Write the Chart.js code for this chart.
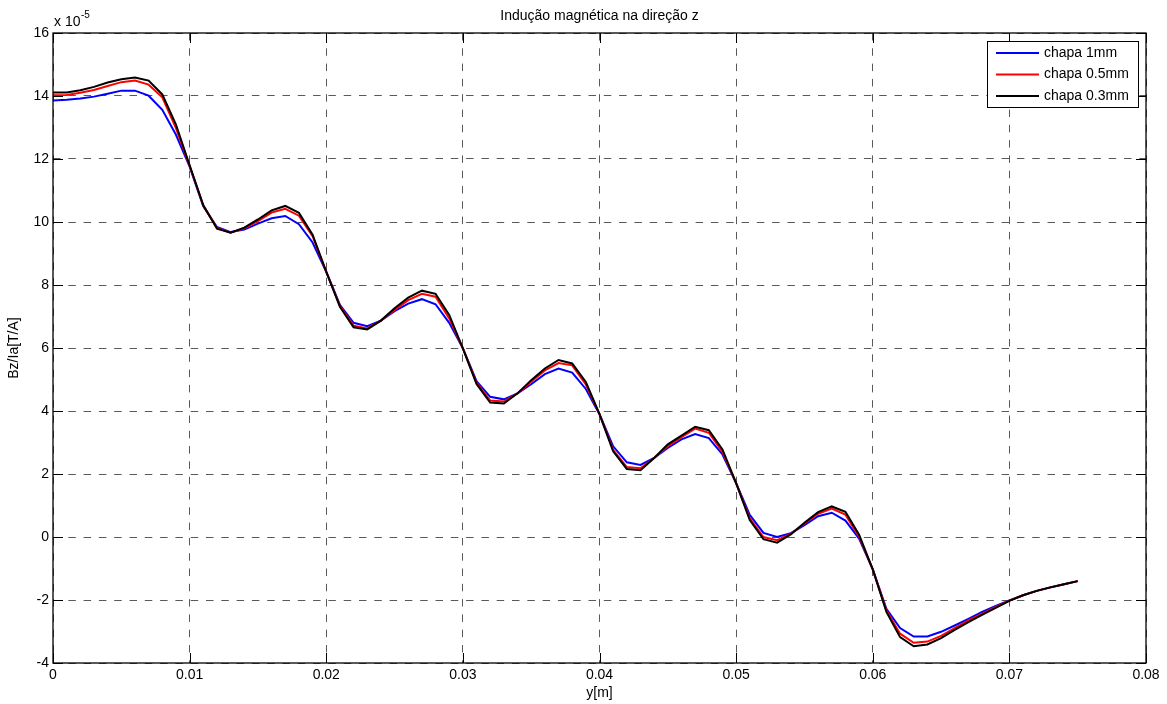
<!DOCTYPE html>
<html>
<head>
<meta charset="utf-8">
<script src="https://cdn.jsdelivr.net/npm/chart.js@4/dist/chart.umd.min.js"></script>
<style>
  html, body { margin: 0; padding: 0; background: #fff; }
  #wrap { width: 1167px; height: 704px; }
</style>
</head>
<body>
<div id="wrap"><canvas id="grafico"></canvas></div>
<script>
// posicoes y[m]
var posY = [0, 0.001, 0.002, 0.003, 0.004, 0.005, 0.006, 0.007, 0.008, 0.009,
  0.010, 0.011, 0.012, 0.013, 0.014, 0.015, 0.016, 0.017, 0.018, 0.019,
  0.020, 0.021, 0.022, 0.023, 0.024, 0.025, 0.026, 0.027, 0.028, 0.029,
  0.030, 0.031, 0.032, 0.033, 0.034, 0.035, 0.036, 0.037, 0.038, 0.039,
  0.040, 0.041, 0.042, 0.043, 0.044, 0.045, 0.046, 0.047, 0.048, 0.049,
  0.050, 0.051, 0.052, 0.053, 0.054, 0.055, 0.056, 0.057, 0.058, 0.059,
  0.060, 0.061, 0.062, 0.063, 0.064, 0.065, 0.066, 0.067, 0.068, 0.069,
  0.070, 0.071, 0.072, 0.073, 0.074, 0.075];

// Bz/Ia em unidades de 1e-5 T/A
var chapa1mm = [13.86, 13.88, 13.92, 13.98, 14.07, 14.17, 14.17, 14.01, 13.56, 12.77,
  11.76, 10.50, 9.84, 9.68, 9.76, 9.95, 10.12, 10.19, 9.93, 9.35,
  8.42, 7.37, 6.80, 6.69, 6.87, 7.17, 7.41, 7.55, 7.39, 6.80,
  5.99, 4.95, 4.45, 4.37, 4.56, 4.85, 5.17, 5.35, 5.22, 4.70,
  3.90, 2.88, 2.37, 2.29, 2.51, 2.83, 3.10, 3.27, 3.14, 2.62,
  1.71, 0.70, 0.13, 0.00, 0.12, 0.38, 0.66, 0.77, 0.52, -0.05,
  -1.03, -2.28, -2.89, -3.16, -3.16, -3.01, -2.81, -2.60, -2.38, -2.19,
  -2.01, -1.85, -1.71, -1.60, -1.50, -1.40];

var chapa05mm = [14.02, 14.03, 14.10, 14.19, 14.32, 14.44, 14.49, 14.36, 13.96, 12.98,
  11.78, 10.52, 9.81, 9.66, 9.80, 10.03, 10.30, 10.42, 10.20, 9.55,
  8.42, 7.34, 6.71, 6.62, 6.87, 7.21, 7.52, 7.72, 7.63, 6.94,
  5.99, 4.90, 4.33, 4.30, 4.56, 4.93, 5.29, 5.52, 5.45, 4.84,
  3.90, 2.77, 2.22, 2.18, 2.51, 2.88, 3.17, 3.44, 3.31, 2.70,
  1.71, 0.59, 0.00, -0.10, 0.10, 0.43, 0.74, 0.90, 0.71, 0.01,
  -1.03, -2.33, -3.07, -3.36, -3.32, -3.14, -2.89, -2.65, -2.44, -2.22,
  -2.02, -1.85, -1.71, -1.60, -1.50, -1.40];

var chapa03mm = [14.11, 14.11, 14.18, 14.29, 14.43, 14.53, 14.59, 14.49, 14.05, 13.09,
  11.80, 10.53, 9.79, 9.66, 9.82, 10.08, 10.37, 10.51, 10.29, 9.60,
  8.42, 7.31, 6.66, 6.59, 6.87, 7.26, 7.60, 7.82, 7.72, 7.05,
  5.99, 4.86, 4.27, 4.24, 4.56, 4.98, 5.35, 5.62, 5.51, 4.92,
  3.90, 2.72, 2.16, 2.12, 2.51, 2.94, 3.22, 3.50, 3.39, 2.78,
  1.71, 0.54, -0.07, -0.18, 0.08, 0.45, 0.79, 0.97, 0.80, 0.07,
  -1.03, -2.38, -3.18, -3.47, -3.41, -3.21, -2.95, -2.70, -2.47, -2.25,
  -2.03, -1.85, -1.71, -1.60, -1.50, -1.40];

var rotulos = ["chapa 1mm", "chapa 0.5mm", "chapa 0.3mm"];
var cores = ["#0000ff", "#ff0000", "#000000"];
var series = [chapa1mm, chapa05mm, chapa03mm];

var fonte = "'Liberation Sans', Arial, sans-serif";

function pontos(valores) {
    return valores.map(function (v, i) { return { x: posY[i], y: v }; });
}

var datasets = series.map(function (s, i) {
    return {
        label: rotulos[i],
        data: pontos(s),
        borderColor: cores[i],
        backgroundColor: cores[i],
        borderWidth: 2,
        pointRadius: 0,
        tension: 0,
        fill: false,
        order: 2 - i   // preto por cima
    };
});

// caixa, ticks internos, titulo, expoente e legenda estilo matlab
var estiloMatlab = {
    id: 'estiloMatlab',
    afterDraw: function (chart) {
        var c = chart.ctx;
        var a = chart.chartArea;
        var sx = chart.scales.x;
        var sy = chart.scales.y;
        c.save();
        c.strokeStyle = '#000';
        c.lineWidth = 1.3;
        c.strokeRect(a.left, a.top, a.right - a.left, a.bottom - a.top);

        c.lineWidth = 1;
        c.beginPath();
        sx.ticks.forEach(function (t) {
            var px = Math.round(sx.getPixelForValue(t.value)) + 0.5;
            c.moveTo(px, a.bottom); c.lineTo(px, a.bottom - 10);
            c.moveTo(px, a.top); c.lineTo(px, a.top + 10);
        });
        sy.ticks.forEach(function (t) {
            var py = Math.round(sy.getPixelForValue(t.value)) + 0.5;
            c.moveTo(a.left, py); c.lineTo(a.left + 10, py);
            c.moveTo(a.right, py); c.lineTo(a.right - 10, py);
        });
        c.stroke();

        c.fillStyle = '#000';
        c.font = '14px ' + fonte;
        c.textAlign = 'center';
        c.textBaseline = 'middle';
        c.fillText('Indução magnética na direção z', (a.left + a.right) / 2, 16);

        // x 10^-5
        c.textAlign = 'left';
        c.textBaseline = 'alphabetic';
        c.fillText('x 10', a.left + 1, 26);
        c.font = '10px ' + fonte;
        c.fillText('-5', a.left + 28, 18);

        // legenda
        var lx = 987, ly = 41, lw = 151, lh = 66;
        c.fillStyle = '#fff';
        c.fillRect(lx, ly, lw, lh);
        c.strokeStyle = '#000';
        c.lineWidth = 1;
        c.strokeRect(lx + 0.5, ly + 0.5, lw, lh);
        c.font = '14px ' + fonte;
        c.textBaseline = 'middle';
        rotulos.forEach(function (r, i) {
            var yy = ly + 12 + i * 21.5;
            c.strokeStyle = cores[i];
            c.lineWidth = 2;
            c.beginPath();
            c.moveTo(lx + 9, yy); c.lineTo(lx + 52, yy);
            c.stroke();
            c.fillStyle = '#000';
            c.fillText(r, lx + 57, yy);
        });
        c.restore();
    }
};

var ctx = document.getElementById('grafico');

var grafico = new Chart(ctx, {
    type: 'line',
    data: { datasets: datasets },
    options: {
        responsive: true,
        maintainAspectRatio: false,
        animation: false,
        layout: { padding: { top: 33, right: 21, left: 0, bottom: 0 } },
        plugins: {
            legend: { display: false },
            title: { display: false },
            tooltip: { enabled: false }
        },
        scales: {
            x: {
                type: 'linear',
                min: 0,
                max: 0.08,
                ticks: {
                    stepSize: 0.01,
                    color: '#000',
                    padding: 4,
                    maxRotation: 0,
                    font: { family: fonte, size: 14 },
                    callback: function (v) { return String(+v.toFixed(2)); }
                },
                grid: { color: 'rgba(0,0,0,0.65)', lineWidth: 1, drawTicks: false },
                border: { display: false, dash: [7.5, 7.8] },
                title: {
                    display: true,
                    text: 'y[m]',
                    color: '#000',
                    font: { family: fonte, size: 14 },
                    padding: { top: 0, bottom: 2 }
                },
                afterFit: function (s) { s.height = 41; }
            },
            y: {
                min: -4,
                max: 16,
                ticks: {
                    stepSize: 2,
                    color: '#000',
                    padding: 4,
                    font: { family: fonte, size: 14 }
                },
                grid: { color: 'rgba(0,0,0,0.65)', lineWidth: 1, drawTicks: false },
                border: { display: false, dash: [7.5, 7.8] },
                title: {
                    display: true,
                    text: 'Bz/Ia[T/A]',
                    color: '#000',
                    font: { family: fonte, size: 14 },
                    padding: { top: 6, bottom: 0 }
                },
                afterFit: function (s) { s.width = 53; }
            }
        }
    },
    plugins: [estiloMatlab]
});
</script>
</body>
</html>
